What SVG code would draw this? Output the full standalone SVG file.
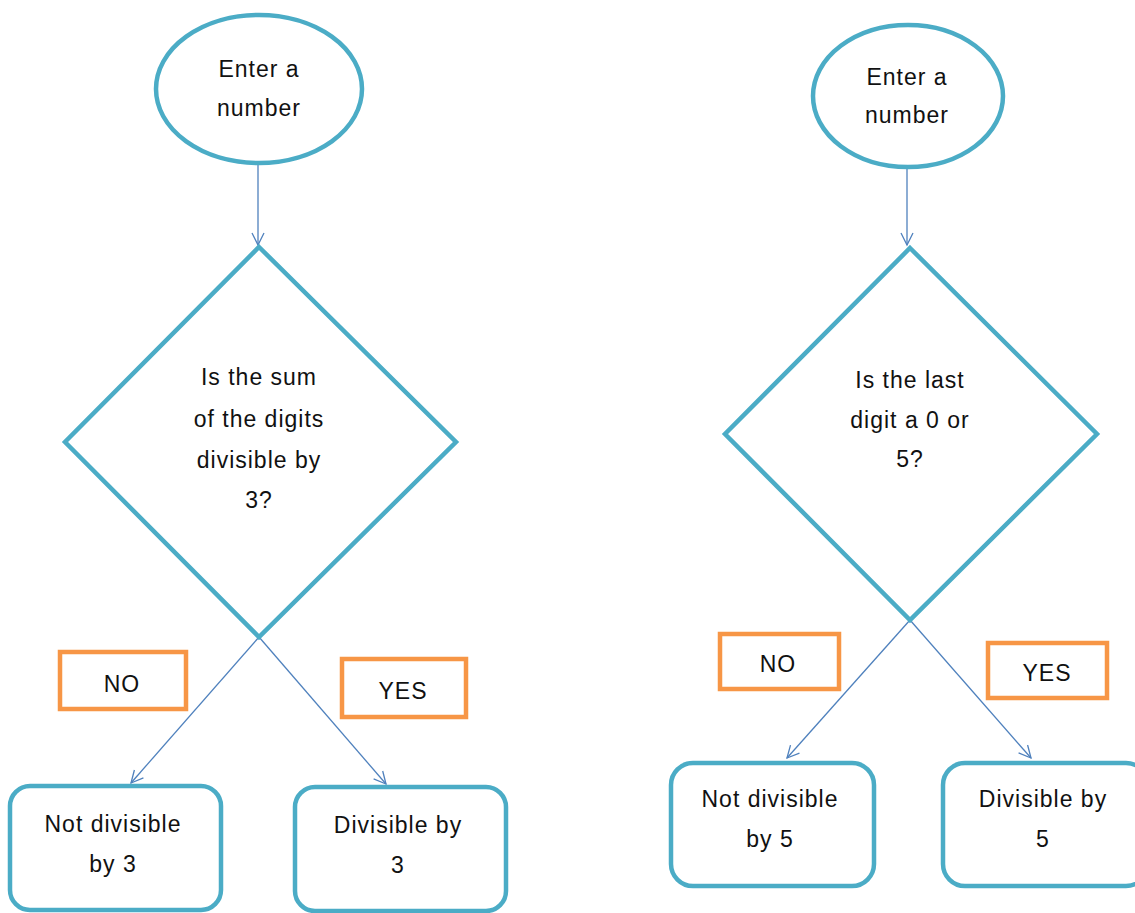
<svg xmlns="http://www.w3.org/2000/svg" width="1135" height="913" viewBox="0 0 1135 913">
<style>
.shape{fill:#fff;stroke:#4BACC6;stroke-width:4.5}
.lbl{fill:#fff;stroke:#F79646;stroke-width:4.5}
.conn{stroke:#4F81BD;stroke-width:1.3;fill:none}
text{font-family:"Liberation Sans",Arial,sans-serif;font-size:23px;fill:#111;text-anchor:middle;letter-spacing:1px}
</style>
<defs>
<marker id="arr" markerUnits="userSpaceOnUse" markerWidth="16" markerHeight="16" refX="13" refY="7" orient="auto">
<path d="M1,1 L13,7 L1,13" fill="none" stroke="#4F81BD" stroke-width="1.3"/>
</marker>
</defs>
<rect width="1135" height="913" fill="#fff"/>
<g id="connectors">
<line class="conn" x1="258" y1="165" x2="258" y2="245" marker-end="url(#arr)"/>
<line class="conn" x1="259" y1="637" x2="131" y2="783" marker-end="url(#arr)"/>
<line class="conn" x1="259" y1="637" x2="386" y2="784" marker-end="url(#arr)"/>
<line class="conn" x1="907" y1="168" x2="907" y2="245" marker-end="url(#arr)"/>
<line class="conn" x1="910" y1="620" x2="787" y2="758" marker-end="url(#arr)"/>
<line class="conn" x1="910" y1="620" x2="1031" y2="758" marker-end="url(#arr)"/>
</g>
<g id="start1">
<ellipse class="shape" cx="259" cy="89" rx="103" ry="74"/>
<text x="259" y="77">Enter a</text>
<text x="259" y="116">number</text>
</g>
<g id="decision1">
<polygon class="shape" points="259,247 456,442 259,637 65,442"/>
<text x="259" y="385">Is the sum</text>
<text x="259" y="427">of the digits</text>
<text x="259" y="468">divisible by</text>
<text x="259" y="508">3?</text>
</g>
<g id="no1">
<rect class="lbl" x="60" y="652" width="126" height="57"/>
<text x="122" y="692">NO</text>
</g>
<g id="yes1">
<rect class="lbl" x="342" y="659" width="124" height="58"/>
<text x="403" y="699">YES</text>
</g>
<g id="notdiv3">
<rect class="shape" x="10" y="786" width="211" height="124" rx="20"/>
<text x="113" y="832">Not divisible</text>
<text x="113" y="872">by 3</text>
</g>
<g id="div3">
<rect class="shape" x="295" y="787" width="211" height="124" rx="20"/>
<text x="398" y="833">Divisible by</text>
<text x="398" y="873">3</text>
</g>
<g id="start2">
<ellipse class="shape" cx="908" cy="96" rx="95" ry="71"/>
<text x="907" y="85">Enter a</text>
<text x="907" y="123">number</text>
</g>
<g id="decision2">
<polygon class="shape" points="910,248 1097,434 910,620 725,434"/>
<text x="910" y="388">Is the last</text>
<text x="910" y="428">digit a 0 or</text>
<text x="910" y="467">5?</text>
</g>
<g id="no2">
<rect class="lbl" x="720" y="634" width="119" height="55"/>
<text x="778" y="672">NO</text>
</g>
<g id="yes2">
<rect class="lbl" x="988" y="643" width="119" height="55"/>
<text x="1047" y="681">YES</text>
</g>
<g id="notdiv5">
<rect class="shape" x="671" y="763" width="203" height="123" rx="22"/>
<text x="770" y="807">Not divisible</text>
<text x="770" y="847">by 5</text>
</g>
<g id="div5">
<rect class="shape" x="943" y="763" width="205" height="123" rx="22"/>
<text x="1043" y="807">Divisible by</text>
<text x="1043" y="847">5</text>
</g>
</svg>
